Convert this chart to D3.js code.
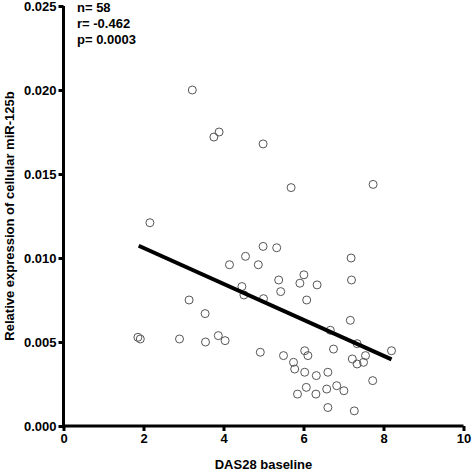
<!DOCTYPE html>
<html>
<head>
<meta charset="utf-8">
<script src="https://cdn.jsdelivr.net/npm/d3@7"></script>
<style>
  html, body { margin: 0; padding: 0; background: #fff; }
  text { font-family: Arial, "Liberation Sans", sans-serif; font-weight: bold; }
</style>
</head>
<body>
<svg id="chart" width="472" height="475"></svg>
<script>
// DAS28 baseline (x) values
const das28 = [
  3.22, 3.76, 3.89, 2.16,
  4.99, 5.69, 7.74,
  4.15, 3.14, 3.54, 1.86, 1.92, 2.90, 3.55, 3.87, 4.04,
  4.99, 5.33, 4.55, 4.87, 7.19, 4.46, 4.51, 5.00, 5.38, 5.43,
  6.01, 5.91, 6.34, 6.08, 7.20, 7.17, 6.67, 7.34, 8.20, 4.92,
  5.50, 6.03, 6.11, 6.75, 5.75, 5.78, 7.22, 7.34, 7.55, 7.50,
  6.03, 6.32, 6.61, 7.73, 6.07, 5.85, 6.31, 6.58, 6.83, 7.01,
  6.61, 7.27
];
// Relative expression of cellular miR-125b (y) values
const mir125b = [
  0.0200, 0.0172, 0.0175, 0.0121,
  0.01679, 0.01419, 0.01438,
  0.0096, 0.0075, 0.00669, 0.00528, 0.00518, 0.00518, 0.0050, 0.00538, 0.00508,
  0.01069, 0.01061, 0.0101, 0.0096, 0.0100, 0.0083, 0.0078, 0.00758, 0.00869, 0.0080,
  0.0090, 0.0085, 0.0084, 0.0075, 0.00869, 0.00629, 0.0057, 0.0049, 0.00448, 0.00439,
  0.00419, 0.00448, 0.00419, 0.00458, 0.00379, 0.00339, 0.00399, 0.00369, 0.00419, 0.00379,
  0.0032, 0.0030, 0.0032, 0.0027, 0.0023, 0.0019, 0.0019, 0.0022, 0.0024, 0.0021,
  0.0011, 0.0009
];
// Fitted regression line endpoints
const fitX = [1.88, 8.20];
const fitY = [0.01073, 0.00397];

const xTicks = [0, 2, 4, 6, 8, 10];
const yTicks = [0.000, 0.005, 0.010, 0.015, 0.020, 0.025];
const statsText = ["n= 58", "r= -0.462", "p= 0.0003"];
const xTitle = "DAS28 baseline";
const yTitle = "Relative expression of cellular miR-125b";

const svg = d3.select("#chart");
const x = d3.scaleLinear().domain([0, 10]).range([63.5, 463.5]);
const y = d3.scaleLinear().domain([0, 0.025]).range([426, 6]);

// Axes
const xAxis = svg.append("g")
  .attr("transform", `translate(0,${y(0)})`)
  .call(d3.axisBottom(x).tickValues(xTicks).tickFormat(d3.format("d")).tickSize(5).tickPadding(3));
const yAxis = svg.append("g")
  .attr("transform", `translate(${x(0)},0)`)
  .call(d3.axisLeft(y).tickValues(yTicks).tickFormat(d3.format(".3f")).tickSize(5).tickPadding(2));

[xAxis, yAxis].forEach(g => {
  g.select(".domain").attr("stroke", "#000").attr("stroke-width", 3);
  g.selectAll(".tick line").attr("stroke", "#000").attr("stroke-width", 3);
  g.selectAll(".tick text").attr("fill", "#000").style("font-size", "13px").style("font-weight", "bold")
    .style("font-family", "Arial, 'Liberation Sans', sans-serif");
});
// remove outer ticks from domain path (make straight line)
xAxis.select(".domain").attr("d", `M${x(0)},0H${x(10)}`);
yAxis.select(".domain").attr("d", `M0,${y(0)}V${y(0.025)}`);

// Points
const pts = das28.map((d, i) => ({ x: d, y: mir125b[i] }));
svg.append("g").selectAll("circle").data(pts).join("circle")
  .attr("cx", d => x(d.x)).attr("cy", d => y(d.y)).attr("r", 4)
  .attr("fill", "none").attr("stroke", "#555").attr("stroke-width", 1);

// Regression line
svg.append("line")
  .attr("x1", x(fitX[0])).attr("y1", y(fitY[0]))
  .attr("x2", x(fitX[1])).attr("y2", y(fitY[1]))
  .attr("stroke", "#000").attr("stroke-width", 4);

// Stats text
svg.append("g").selectAll("text").data(statsText).join("text")
  .attr("x", 77).attr("y", (d, i) => 12 + i * 16)
  .style("font-size", "13px").attr("fill", "#000").text(d => d);

// Axis titles
svg.append("text").attr("x", (x(0) + x(10)) / 2).attr("y", 469)
  .attr("text-anchor", "middle").style("font-size", "13px").attr("fill", "#000").text(xTitle);
svg.append("text")
  .attr("transform", `translate(14,${(y(0) + y(0.025)) / 2}) rotate(-90)`)
  .attr("text-anchor", "middle").style("font-size", "13px").attr("fill", "#000").text(yTitle);
</script>
</body>
</html>
